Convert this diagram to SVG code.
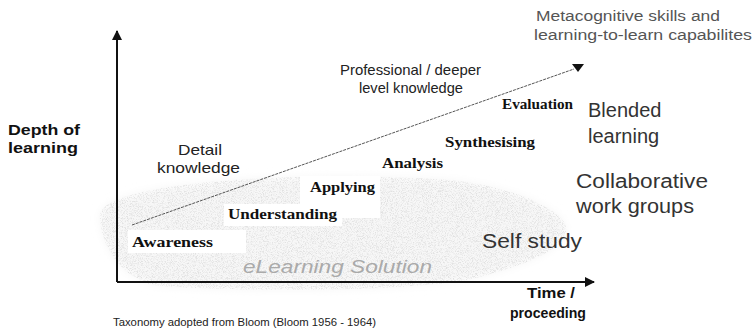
<svg xmlns="http://www.w3.org/2000/svg" width="756" height="334" viewBox="0 0 756 334">
<defs>
<filter id="speck" x="-10%" y="-10%" width="120%" height="120%">
<feTurbulence type="fractalNoise" baseFrequency="1.2" numOctaves="2" seed="3" result="n"/>
<feColorMatrix in="n" type="matrix" values="0 0 0 0 0.7  0 0 0 0 0.7  0 0 0 0 0.7  0 0 0 -3 1.7" result="dots"/>
<feComposite in="dots" in2="SourceGraphic" operator="in" result="clip"/>
<feGaussianBlur in="clip" stdDeviation="0.3"/>
</filter>
<filter id="soft"><feGaussianBlur stdDeviation="4"/></filter>
<marker id="ah" viewBox="0 0 10 10" refX="9" refY="5" markerWidth="10" markerHeight="10" markerUnits="userSpaceOnUse" orient="auto">
<path d="M0,0 L10,5 L0,10 z" fill="#111"/>
</marker>
</defs>
<style>
.ax{fill:none;stroke:#111;stroke-width:2}
.dash{fill:none;stroke:#555;stroke-width:1;stroke-dasharray:3 1}
.sans{font-family:"Liberation Sans",Arial,sans-serif}
.bold{font-family:"Liberation Sans",Arial,sans-serif;font-weight:bold;font-size:15px;fill:#111}
.lvl{font-family:"Liberation Serif","Times New Roman",serif;font-weight:bold;font-size:14px;fill:#111}
.big{font-family:"Liberation Sans",Arial,sans-serif;font-size:20px;fill:#333}
.mid{font-family:"Liberation Sans",Arial,sans-serif;font-size:15px;fill:#222}
.cl{opacity:0.75}
</style>
<g id="cloud">
<path d="M100,214 C104,198 150,188 210,182 C280,175 380,175 450,180 C510,186 560,208 566,226 C570,248 525,266 472,279 C400,292 250,292 160,286 C122,282 98,242 100,214 Z" fill="#f7f7f7" filter="url(#soft)"/>
<path class="cl" d="M100,214 C104,198 150,188 210,182 C280,175 380,175 450,180 C510,186 560,208 566,226 C570,248 525,266 472,279 C400,292 250,292 160,286 C122,282 98,242 100,214 Z" fill="#fff" filter="url(#speck)"/>
<rect x="128" y="230" width="118" height="23" fill="#fff"/>
<rect x="224" y="204" width="118" height="22" fill="#fff"/>
<rect x="300" y="176" width="80" height="42" fill="#fff"/>
<text x="243" y="273" class="sans" font-size="19" font-style="italic" fill="#aaa" textLength="189" lengthAdjust="spacingAndGlyphs">eLearning Solution</text>
</g>
<g id="connectors">
<line x1="117" y1="282" x2="117" y2="31" class="ax" marker-end="url(#ah)"/>
<line x1="117" y1="282" x2="594" y2="282" class="ax" marker-end="url(#ah)"/>
<line x1="132" y1="225" x2="574" y2="69" class="dash"/>
<path d="M572,64 L584,64 L578,72 z" fill="#111"/>
</g>
<g id="axis-y-label"><text class="bold" x="8" y="135" textLength="72" lengthAdjust="spacingAndGlyphs">Depth of</text><text class="bold" x="8" y="153" textLength="70" lengthAdjust="spacingAndGlyphs">learning</text></g>
<g id="axis-x-label"><text class="bold" x="527" y="298" textLength="48" lengthAdjust="spacingAndGlyphs">Time /</text><text class="bold" x="510" y="318" textLength="76" lengthAdjust="spacingAndGlyphs">proceeding</text></g>
<g id="metacognitive"><text class="sans" font-size="14" fill="#555" x="536" y="21" textLength="184" lengthAdjust="spacingAndGlyphs">Metacognitive skills and</text><text class="sans" font-size="14" fill="#555" x="534" y="40" textLength="218" lengthAdjust="spacingAndGlyphs">learning-to-learn capabilites</text></g>
<g id="professional"><text class="mid" x="340" y="75" textLength="141" lengthAdjust="spacingAndGlyphs">Professional / deeper</text><text class="mid" x="359" y="93" textLength="104" lengthAdjust="spacingAndGlyphs">level knowledge</text></g>
<g id="detail"><text class="mid" font-size="16" x="178" y="155" textLength="44" lengthAdjust="spacingAndGlyphs">Detail</text><text class="mid" font-size="16" x="157" y="173" textLength="83" lengthAdjust="spacingAndGlyphs">knowledge</text></g>
<g id="evaluation"><text class="lvl" x="502" y="109" textLength="71" lengthAdjust="spacingAndGlyphs">Evaluation</text></g>
<g id="synthesising"><text class="lvl" x="445" y="147" textLength="90" lengthAdjust="spacingAndGlyphs">Synthesising</text></g>
<g id="analysis"><text class="lvl" x="382" y="168" textLength="61" lengthAdjust="spacingAndGlyphs">Analysis</text></g>
<g id="applying"><text class="lvl" x="310" y="192" textLength="65" lengthAdjust="spacingAndGlyphs">Applying</text></g>
<g id="understanding"><text class="lvl" x="228" y="219" textLength="109" lengthAdjust="spacingAndGlyphs">Understanding</text></g>
<g id="awareness"><text class="lvl" x="132" y="247" textLength="81" lengthAdjust="spacingAndGlyphs">Awareness</text></g>
<g id="blended"><text class="big" x="588" y="117">Blended</text><text class="big" x="588" y="143">learning</text></g>
<g id="collaborative"><text class="big" x="576" y="188" textLength="132" lengthAdjust="spacingAndGlyphs">Collaborative</text><text class="big" x="576" y="213" textLength="118" lengthAdjust="spacingAndGlyphs">work groups</text></g>
<g id="selfstudy"><text class="big" x="482" y="248" textLength="100" lengthAdjust="spacingAndGlyphs">Self study</text></g>
<g id="caption"><text class="sans" font-size="11.5" fill="#222" x="113" y="326" textLength="263" lengthAdjust="spacingAndGlyphs">Taxonomy adopted from Bloom (Bloom 1956 - 1964)</text></g>
</svg>
